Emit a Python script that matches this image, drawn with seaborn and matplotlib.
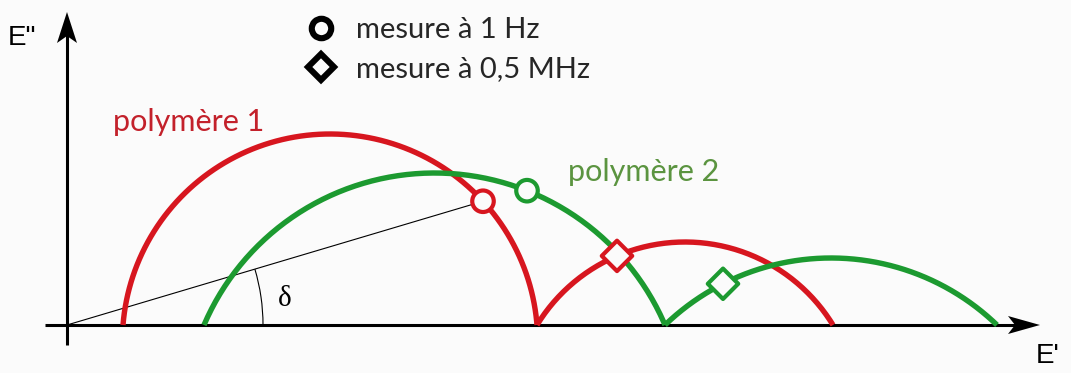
import numpy as np
import pandas as pd
import matplotlib
matplotlib.use("Agg")
import matplotlib.pyplot as plt
from matplotlib.lines import Line2D
from matplotlib.patches import Arc
import seaborn as sns

# Storage modulus E' (horizontal) vs loss modulus E'' (vertical), schematic units.
# Each polymer traces two arcs: start E', end E' and height of each arc.
poly1_start = [56, 470]
poly1_end = [470, 766]
poly1_height = [191, 83]

poly2_start = [137, 598]
poly2_end = [598, 930]
poly2_height = [152, 67]

# E' values of the measurements (polymère 1, polymère 2)
meas_1hz_x = [416, 460]
meas_05mhz_x = [550, 656]

polymers = ["polymère 1", "polymère 2"]
freq_labels = ["mesure à 1 Hz", "mesure à 0,5 MHz"]

RED = "#d7161f"
GREEN = "#1c9a30"
RED_TXT = "#c3212b"
GREEN_TXT = "#5b9440"
BG = "#fbfbfb"


def arc_geometry(x0, x1, h):
    """Circle through (x0,0), (x1,0) and apex height h."""
    a = (x1 - x0) / 2.0
    r = (h * h + a * a) / (2.0 * h)
    cx = (x0 + x1) / 2.0
    cy = h - r
    return cx, cy, r


def arc_points(x0, x1, h, n=200):
    cx, cy, r = arc_geometry(x0, x1, h)
    t0 = np.arcsin(-cy / r)
    t = np.linspace(np.pi - t0, t0, n)
    return cx + r * np.cos(t), cy + r * np.sin(t)


def arc_y(x0, x1, h, x):
    cx, cy, r = arc_geometry(x0, x1, h)
    return cy + np.sqrt(r * r - (x - cx) ** 2)


arc_table = {"polymère 1": (poly1_start, poly1_end, poly1_height),
             "polymère 2": (poly2_start, poly2_end, poly2_height)}

rows = []
for name, (starts, ends, heights) in arc_table.items():
    for k, (s, e, h) in enumerate(zip(starts, ends, heights)):
        xs, ys = arc_points(s, e, h)
        for xv, yv in zip(xs, ys):
            rows.append({"Ep": xv, "Epp": yv, "polymère": name, "arc": f"{name}-{k}"})
arcs = pd.DataFrame(rows)

pts = []
for i, name in enumerate(polymers):
    s, e, h = arc_table[name]
    pts.append({"Ep": meas_1hz_x[i], "Epp": arc_y(s[0], e[0], h[0], meas_1hz_x[i]),
                "polymère": name, "mesure": freq_labels[0]})
    pts.append({"Ep": meas_05mhz_x[i], "Epp": arc_y(s[1], e[1], h[1], meas_05mhz_x[i]),
                "polymère": name, "mesure": freq_labels[1]})
points = pd.DataFrame(pts)

sns.set_theme(style="white")
plt.rcParams["font.family"] = ["Lato", "DejaVu Sans"]

fig = plt.figure(figsize=(10.71, 3.73), dpi=100, facecolor=BG)
ax = fig.add_axes([0, 0, 1, 1])
ax.set_facecolor(BG)
ax.set_xlim(-67, 1004)
ax.set_ylim(-48, 325)
ax.axis("off")

palette = {"polymère 1": RED, "polymère 2": GREEN}

# axes with arrowheads
ax.plot([-22, 950], [0, 0], color="black", lw=2.2, solid_capstyle="butt", zorder=2)
ax.plot([0, 0], [-20, 290], color="black", lw=2.2, solid_capstyle="butt", zorder=2)
ax.fill([973, 941, 948, 941], [0, 9, 0, -9], color="black", lw=0, zorder=2)
ax.fill([0, -10, 0, 10], [313, 282, 289, 282], color="black", lw=0, zorder=2)

# arcs
sns.lineplot(data=arcs, x="Ep", y="Epp", hue="polymère", units="arc",
             estimator=None, sort=False, palette=palette, lw=3.9,
             legend=False, ax=ax, zorder=3)
for ln in ax.get_lines()[-4:]:
    ln.set_solid_capstyle("butt")

# loss angle: line from origin to the 1 Hz point of polymère 1
p1 = points[(points["polymère"] == polymers[0]) & (points["mesure"] == freq_labels[0])].iloc[0]
ax.plot([0, p1["Ep"]], [0, p1["Epp"]], color="black", lw=0.8, zorder=2.5)
delta = np.degrees(np.arctan2(p1["Epp"], p1["Ep"]))
ax.add_patch(Arc((0, 0), 392, 392, theta1=0, theta2=delta, color="black", lw=0.8))
ax.text(218, 26, "δ", family=["Liberation Serif", "DejaVu Serif"], fontsize=21,
        ha="center", va="center", color="black")

# measurement points
sns.scatterplot(data=points, x="Ep", y="Epp", hue="polymère", style="mesure",
                markers={freq_labels[0]: "o", freq_labels[1]: "D"},
                palette=palette, s=240, legend=False, ax=ax, zorder=4)
coll = ax.collections[-1]
coll.set_edgecolors(coll.get_facecolors())
coll.set_facecolors(BG)
coll.set_linewidth(3.0)

# labels
ax.text(46, 203, polymers[0], color=RED_TXT, fontsize=22, ha="left", va="center")
ax.text(501, 153, polymers[1], color=GREEN_TXT, fontsize=22, ha="left", va="center")
ax.text(-59, 287, 'E"', family=["Liberation Sans", "DejaVu Sans"], fontsize=20,
        ha="left", va="center", color="black")
ax.text(969, -31, "E'", family=["Liberation Sans", "DejaVu Sans"], fontsize=20,
        ha="left", va="center", color="black")

# legend of measurement frequencies
handles = [Line2D([], [], ls="none", marker="o", ms=14, mew=4.4, mec="black", mfc=BG),
           Line2D([], [], ls="none", marker="D", ms=13, mew=4.4, mec="black", mfc=BG)]
ax.legend(handles, freq_labels, loc="upper left", bbox_to_anchor=(0.262, 1.025),
          frameon=False, fontsize=21, handletextpad=0.7, labelspacing=0.45,
          handlelength=1.0)

fig.savefig("out.png", dpi=100, facecolor=BG)
